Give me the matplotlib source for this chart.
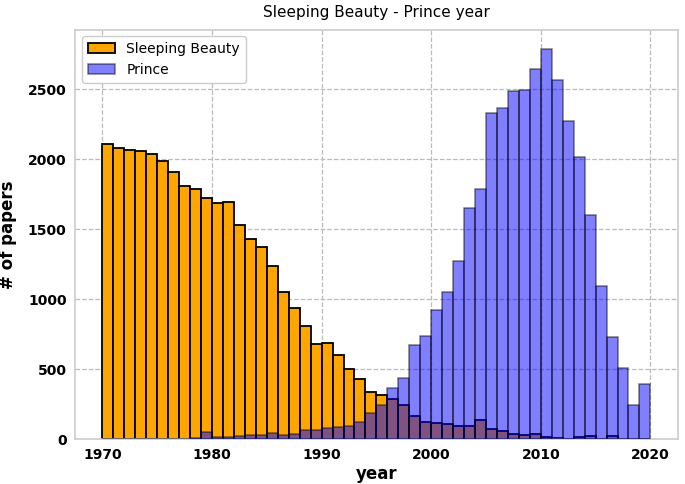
import numpy as np
import matplotlib
matplotlib.use('Agg')
import matplotlib.pyplot as plt

## yearly bins 1970..2019 (each bin is one year wide)
years = np.arange(1970, 2020)

## sleeping beauty paper counts per year
sleeping = [2107, 2079, 2067, 2060, 2038, 1986, 1907, 1807, 1790, 1724,
            1686, 1695, 1529, 1431, 1371, 1236, 1050, 936, 807, 679,
            690, 600, 501, 428, 337, 319, 291, 248, 167, 124,
            121, 109, 98, 98, 140, 76, 59, 40, 29, 39,
            17, 12, 5, 21, 26, 1, 26, 0, 0, 0]

## prince paper counts per year
prince = [1, 1, 2, 3, 4, 1, 3, 3, 7, 55,
          15, 15, 22, 35, 35, 45, 30, 36, 70, 67,
          83, 88, 97, 128, 186, 248, 369, 440, 671, 736,
          921, 1052, 1271, 1652, 1786, 2333, 2367, 2485, 2493, 2645,
          2786, 2563, 2276, 2017, 1605, 1093, 731, 512, 243, 393]

fig = plt.figure(figsize=(6.85, 4.84), dpi=100)
ax = fig.add_axes([0.1095, 0.092, 0.88, 0.847])

bins = np.arange(1970, 2021)
ax.hist(years, bins=bins, weights=sleeping, color='orange', edgecolor='black',
        linewidth=1.3, label='Sleeping Beauty', zorder=2)
ax.hist(years, bins=bins, weights=prince, color='blue', alpha=0.5, edgecolor='black',
        linewidth=1.1, label='Prince', zorder=3)

ax.set_title('Sleeping Beauty - Prince year', fontsize=11, pad=9)
ax.set_xlabel('year', fontsize=12, fontweight='bold', labelpad=2)
ax.set_ylabel('# of papers', fontsize=12, fontweight='bold', labelpad=8)
ax.set_xticks(np.arange(1970, 2021, 10))
ax.set_yticks(np.arange(0, 2501, 500))
for lab in ax.get_xticklabels() + ax.get_yticklabels():
    lab.set_fontweight('bold')
ax.tick_params(axis='both', labelsize=10, length=0, pad=6)
ax.grid(color='#bbbbbb', linestyle='--', linewidth=0.9, zorder=0)
ax.set_axisbelow(True)
for s in ax.spines.values():
    s.set_color('#cccccc')
    s.set_linewidth(1.2)

ax.legend(loc='upper left', fontsize=10, framealpha=1, edgecolor='#cccccc')

fig.savefig('out.png', dpi=100)
